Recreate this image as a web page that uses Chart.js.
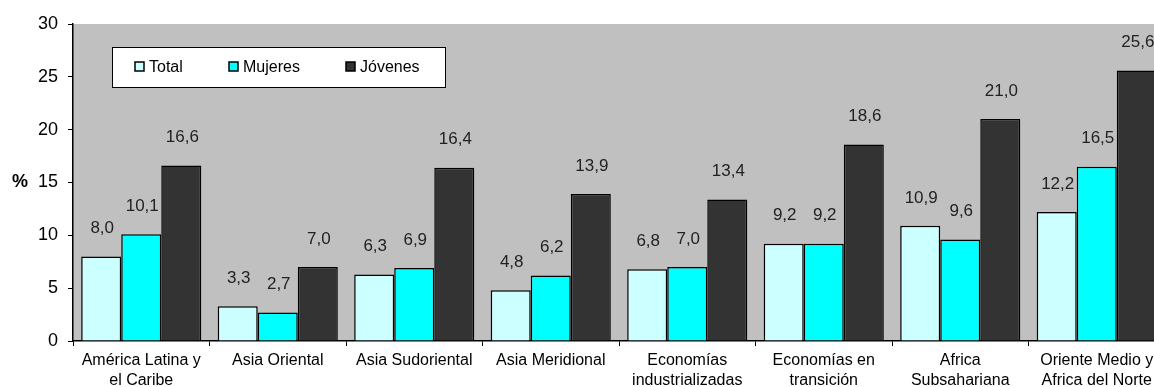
<!DOCTYPE html>
<html>
<head>
<meta charset="utf-8">
<script src="https://cdn.jsdelivr.net/npm/chart.js@4.4.1/dist/chart.umd.min.js"></script>
<style>
  html, body { margin: 0; padding: 0; background: #ffffff; overflow: hidden; }
  #wrap { position: absolute; left: 0; top: 0; width: 1170px; height: 387px; }
</style>
</head>
<body>
<div id="wrap"><canvas id="c" width="1170" height="387"></canvas></div>
<script>
// Regiones (dos líneas por etiqueta)
const categories = [
  ['América Latina y', 'el Caribe'],
  ['Asia Oriental'],
  ['Asia Sudoriental'],
  ['Asia Meridional'],
  ['Economías', 'industrializadas'],
  ['Economías en', 'transición'],
  ['Africa', 'Subsahariana'],
  ['Oriente Medio y', 'Africa del Norte']
];
const totalValues   = [8.0, 3.3, 6.3, 4.8, 6.8, 9.2, 10.9, 12.2];
const mujeresValues = [10.1, 2.7, 6.9, 6.2, 7.0, 9.2, 9.6, 16.5];
const jovenesValues = [16.6, 7.0, 16.4, 13.9, 13.4, 18.6, 21.0, 25.6];
const yTicks = [0, 5, 10, 15, 20, 25, 30];

const FONT = "'Liberation Sans', Arial, sans-serif";

// Fondo gris del área de trazado
const plotBackground = {
  id: 'plotBackground',
  beforeDraw(chart) {
    const { ctx, chartArea: a } = chart;
    ctx.save();
    ctx.fillStyle = '#c0c0c0';
    ctx.fillRect(a.left, a.top, a.right - a.left, a.bottom - a.top);
    ctx.restore();
  }
};

// Valores encima de cada barra, con coma decimal
const valueLabels = {
  id: 'valueLabels',
  afterDatasetsDraw(chart) {
    const { ctx } = chart;
    ctx.save();
    ctx.font = '17px ' + FONT;
    ctx.fillStyle = '#222222';
    ctx.textAlign = 'center';
    ctx.textBaseline = 'middle';
    chart.data.datasets.forEach((ds, i) => {
      chart.getDatasetMeta(i).data.forEach((bar, j) => {
        const txt = ds.data[j].toFixed(1).replace('.', ',');
        ctx.fillText(txt, bar.x + 1, bar.y - 28);
      });
    });
    ctx.restore();
  }
};

// Leyenda en recuadro blanco dentro del área de trazado, y rótulo "%"
const boxLegend = {
  id: 'boxLegend',
  afterDraw(chart) {
    const { ctx, chartArea: a } = chart;
    ctx.save();
    const x0 = a.left + 39, y0 = a.top + 23, w = 333, h = 40;
    ctx.fillStyle = '#ffffff';
    ctx.fillRect(x0, y0, w, h);
    ctx.strokeStyle = '#000000';
    ctx.lineWidth = 1;
    ctx.strokeRect(x0 + 0.5, y0 + 0.5, w, h);
    const offsets = [23, 117, 234];
    ctx.font = '16px ' + FONT;
    ctx.textBaseline = 'middle';
    ctx.textAlign = 'left';
    const cy = y0 + 19.5;
    chart.data.datasets.forEach((ds, i) => {
      const sx = x0 + offsets[i];
      ctx.fillStyle = ds.backgroundColor;
      ctx.fillRect(sx, cy - 4.5, 9, 9);
      ctx.strokeStyle = '#000000';
      ctx.lineWidth = 1.5;
      ctx.strokeRect(sx, cy - 4.5, 9, 9);
      ctx.fillStyle = '#000000';
      ctx.fillText(ds.label, sx + 14, cy + 1);
    });
    // rótulo del eje vertical
    ctx.font = 'bold 18px ' + FONT;
    ctx.textAlign = 'center';
    ctx.fillText('%', 20, (a.top + a.bottom) / 2);
    ctx.restore();
  }
};

new Chart(document.getElementById('c'), {
  type: 'bar',
  data: {
    labels: categories,
    datasets: [
      { label: 'Total',   data: totalValues,   backgroundColor: '#ccffff' },
      { label: 'Mujeres', data: mujeresValues, backgroundColor: '#00ffff' },
      { label: 'Jóvenes', data: jovenesValues, backgroundColor: '#333333' }
    ]
  },
  options: {
    responsive: false,
    animation: false,
    devicePixelRatio: 1,
    layout: { padding: { left: 0, right: 5, top: 24, bottom: 0 } },
    datasets: {
      bar: {
        categoryPercentage: 0.88,
        barPercentage: 1.0,
        borderColor: '#000000',
        borderWidth: 1.5,
        borderSkipped: 'start'
      }
    },
    plugins: {
      legend: { display: false },
      tooltip: { enabled: false }
    },
    scales: {
      x: {
        grid: {
          offset: true,
          drawOnChartArea: false,
          drawTicks: true,
          tickLength: 5,
          color: '#000000',
          lineWidth: 1
        },
        border: { display: true, color: '#000000', width: 1.5 },
        ticks: {
          autoSkip: false,
          maxRotation: 0,
          minRotation: 0,
          color: '#000000',
          padding: 5,
          font: { family: FONT, size: 16, lineHeight: 1.25 }
        },
        afterFit(scale) { scale.height = 46; }
      },
      y: {
        min: 0,
        max: 30,
        afterBuildTicks(scale) { scale.ticks = yTicks.map(v => ({ value: v })); },
        grid: {
          drawOnChartArea: false,
          drawTicks: true,
          tickLength: 5,
          color: '#000000',
          lineWidth: 1
        },
        border: { display: true, color: '#000000', width: 1.5 },
        ticks: {
          color: '#000000',
          padding: 10,
          font: { family: FONT, size: 18 }
        },
        afterFit(scale) { scale.width = 73; }
      }
    }
  },
  plugins: [plotBackground, valueLabels, boxLegend]
});
</script>
</body>
</html>
